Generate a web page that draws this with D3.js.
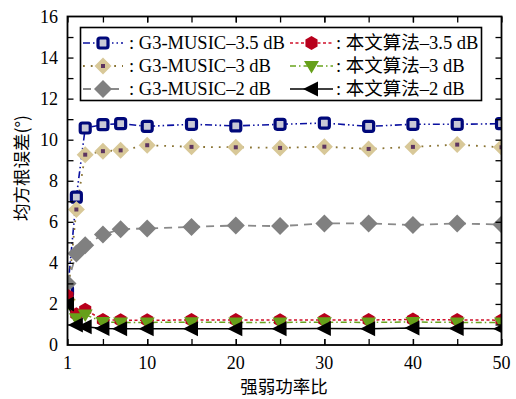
<!DOCTYPE html>
<html>
<head>
<meta charset="utf-8">
<script src="https://cdn.jsdelivr.net/npm/d3@7"></script>
<style>
  html, body { margin: 0; padding: 0; background: #fff; }
  svg { display: block; }
</style>
</head>
<body>
<svg id="chart" width="516" height="399"></svg>
<script>
// Power ratio (strong / weak) on the x axis
const ratios = [1, 2, 3, 5, 7, 10, 15, 20, 25, 30, 35, 40, 45, 50];

// RMSE (degrees) for each method and SNR setting
const g3Music35 = [2.6, 7.2, 10.57, 10.73, 10.78, 10.65, 10.75, 10.67, 10.75, 10.81, 10.65, 10.75, 10.75, 10.78];
const g3Music3  = [2.2, 6.6, 9.27, 9.44, 9.48, 9.73, 9.65, 9.63, 9.6, 9.66, 9.55, 9.65, 9.76, 9.63];
const g3Music2  = [3.0, 4.46, 4.86, 5.38, 5.64, 5.68, 5.75, 5.82, 5.79, 5.92, 5.92, 5.84, 5.92, 5.87];
const ours35    = [2.4, 1.5, 1.72, 1.22, 1.21, 1.2, 1.22, 1.22, 1.21, 1.22, 1.22, 1.24, 1.22, 1.21];
const ours3     = [2.0, 1.3, 1.48, 1.12, 1.1, 1.1, 1.11, 1.1, 1.1, 1.11, 1.1, 1.12, 1.1, 1.1];
const ours2     = [2.0, 0.97, 0.89, 0.8, 0.79, 0.79, 0.79, 0.79, 0.79, 0.8, 0.79, 0.83, 0.8, 0.79];

const legendLabels = [
  ": G3-MUSIC\u20133.5 dB", ": G3-MUSIC\u20133 dB", ": G3-MUSIC\u20132 dB",
  ": 本文算法\u20133.5 dB", ": 本文算法\u20133 dB", ": 本文算法\u20132 dB"
];
const xTickValues = [1, 10, 20, 30, 40, 50];
const yTickValues = [0, 2, 4, 6, 8, 10, 12, 14, 16];
const xTitle = "强弱功率比";
const yTitle = "均方根误差(°)";

const SERIF = "'Liberation Serif', 'Times New Roman', 'Noto Sans CJK SC', serif";
const CJK = "'Noto Sans CJK SC', sans-serif";

const svg = d3.select("#chart");
const plot = { left: 67.5, right: 501.5, top: 16.5, bottom: 345 };

const x = d3.scaleLinear().domain([1, 50]).range([plot.left, plot.right]);
const y = d3.scaleLinear().domain([0, 16]).range([plot.bottom, plot.top]);

// Marker shapes
function markSquare(g) {
  g.append("rect").attr("x", -5).attr("y", -5).attr("width", 10).attr("height", 10)
    .attr("rx", 2).attr("fill", "#c9c9d6").attr("stroke", "#00087a").attr("stroke-width", 3.2);
}
function markDiamondTan(g) {
  g.append("path").attr("d", "M0,-8.5L8.5,0L0,8.5L-8.5,0Z").attr("fill", "#d8c898");
  g.append("rect").attr("x", -2).attr("y", -2).attr("width", 4).attr("height", 4).attr("fill", "#5d3560");
}
function markDiamondGray(g) {
  g.append("path").attr("d", "M0,-9L9,0L0,9L-9,0Z").attr("fill", "#808080");
}
function markHex(g) {
  const r = 7, pts = d3.range(6).map(i => {
    const a = Math.PI / 6 + i * Math.PI / 3;
    return [r * Math.cos(a), r * Math.sin(a)];
  });
  g.append("path").attr("d", "M" + pts.join("L") + "Z").attr("fill", "#b8001c");
}
function markTriDown(g) {
  g.append("path").attr("d", "M-7.5,-5L7.5,-5L0,7.5Z").attr("fill", "#66a01a");
}
function markTriLeft(g) {
  g.append("path").attr("d", "M-8.5,0L6.5,-7.5L6.5,7.5Z").attr("fill", "#000");
}

const series = [
  { values: g3Music35, color: "#0a10a0", dash: "7,3,1.5,3,1.5,3", width: 1.6, mark: markSquare },
  { values: g3Music3,  color: "#8a7434", dash: "1.8,6", width: 1.8, mark: markDiamondTan },
  { values: g3Music2,  color: "#8a8a8a", dash: "8,6", width: 1.8, mark: markDiamondGray },
  { values: ours35,    color: "#d0102a", dash: "3,2.5", width: 1.5, mark: markHex },
  { values: ours3,     color: "#6aa41e", dash: "6,3,1.5,3", width: 1.5, mark: markTriDown },
  { values: ours2,     color: "#000000", dash: null, width: 1.5, mark: markTriLeft }
];

svg.append("clipPath").attr("id", "plotClip")
  .append("rect").attr("x", plot.left).attr("y", plot.top)
  .attr("width", plot.right - plot.left).attr("height", plot.bottom - plot.top);

const dataLayer = svg.append("g").attr("clip-path", "url(#plotClip)");
const line = d3.line().x((d, i) => x(ratios[i])).y(d => y(d));

series.forEach(s => {
  dataLayer.append("path").datum(s.values).attr("d", line)
    .attr("fill", "none").attr("stroke", s.color).attr("stroke-width", s.width)
    .attr("stroke-dasharray", s.dash);
});
series.forEach(s => {
  s.values.forEach((v, i) => {
    const g = dataLayer.append("g").attr("transform", `translate(${x(ratios[i])},${y(v)})`);
    s.mark(g);
  });
});

// Axes: ticks on all four sides, pointing inward
const xMinor = d3.range(5, 50, 5);
const yMinor = d3.range(1, 16, 1);
const axisG = svg.append("g");
const bottomAxis = d3.axisBottom(x).tickValues(xTickValues.concat(xMinor)).tickSize(-6).tickFormat("");
const topAxis = d3.axisTop(x).tickValues(xTickValues.concat(xMinor)).tickSize(-6).tickFormat("");
const leftAxis = d3.axisLeft(y).tickValues(yMinor).tickSize(-6).tickFormat("");
const rightAxis = d3.axisRight(y).tickValues(yMinor).tickSize(-6).tickFormat("");
[[bottomAxis, `translate(0,${plot.bottom})`], [topAxis, `translate(0,${plot.top})`],
 [leftAxis, `translate(${plot.left},0)`], [rightAxis, `translate(${plot.right},0)`]].forEach(([ax, tr]) => {
  const g = axisG.append("g").attr("transform", tr).call(ax);
  g.select(".domain").remove();
  g.selectAll("line").attr("stroke", "#000").attr("stroke-width", 1.3);
});
axisG.append("rect").attr("x", plot.left).attr("y", plot.top)
  .attr("width", plot.right - plot.left).attr("height", plot.bottom - plot.top)
  .attr("fill", "none").attr("stroke", "#000").attr("stroke-width", 1.8);

// Tick labels
svg.append("g").selectAll("text").data(xTickValues).join("text")
  .attr("x", d => x(d)).attr("y", 369).attr("text-anchor", "middle")
  .style("font-family", SERIF).attr("font-size", 18).text(d => d);
svg.append("g").selectAll("text").data(yTickValues).join("text")
  .attr("x", 58).attr("y", d => y(d) + 6).attr("text-anchor", "end")
  .style("font-family", SERIF).attr("font-size", 18).text(d => d);

// Axis titles
svg.append("text").attr("x", 284).attr("y", 393).attr("text-anchor", "middle")
  .style("font-family", CJK).attr("font-size", 17.5).text(xTitle);
svg.append("text").attr("transform", "translate(28,168) rotate(-90)").attr("text-anchor", "middle")
  .style("font-family", CJK).attr("font-size", 17.5).text(yTitle);

// Legend
const legend = svg.append("g");
legend.append("rect").attr("x", 80.5).attr("y", 27.5).attr("width", 401).attr("height", 73)
  .attr("fill", "#fff").attr("stroke", "#000").attr("stroke-width", 1.6);
const rowY = [43, 66, 89];
const cols = [{ x0: 83, x1: 123, tx: 129 }, { x0: 290, x1: 333, tx: 336 }];
series.forEach((s, i) => {
  const c = cols[Math.floor(i / 3)], ry = rowY[i % 3];
  legend.append("line").attr("x1", c.x0).attr("x2", c.x1).attr("y1", ry).attr("y2", ry)
    .attr("stroke", s.color).attr("stroke-width", s.width).attr("stroke-dasharray", s.dash);
  s.mark(legend.append("g").attr("transform", `translate(${(c.x0 + c.x1) / 2},${ry})`));
  legend.append("text").attr("x", c.tx).attr("y", ry + 6)
    .style("font-family", SERIF).attr("font-size", 18.5).text(legendLabels[i]);
});
</script>
</body>
</html>
